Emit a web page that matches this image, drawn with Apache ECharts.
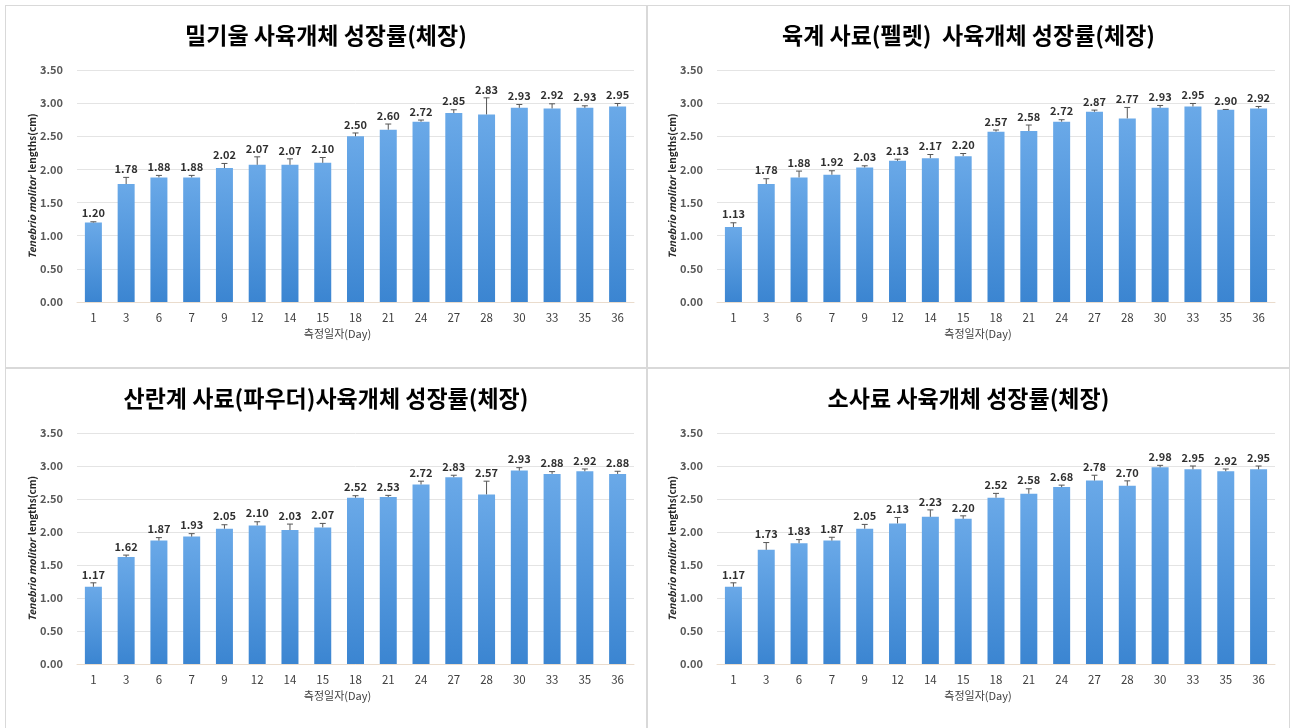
<!DOCTYPE html>
<html>
<head>
<meta charset="utf-8">
<script src="https://cdn.jsdelivr.net/npm/echarts@6/dist/echarts.min.js"></script>
<style>
  html, body { margin:0; padding:0; background:#fff; width:1291px; height:728px; overflow:hidden; }
  .panel { position:absolute; border:1px solid #d9d9d9; box-sizing:border-box; background:#fff; }
</style>
</head>
<body>
<div id="p1" class="panel" style="left:5px; top:5px; width:642px; height:363px;"></div>
<div id="p2" class="panel" style="left:647px; top:5px; width:643px; height:363px;"></div>
<div id="p3" class="panel" style="left:5px; top:368px; width:642px; height:364px;"></div>
<div id="p4" class="panel" style="left:647px; top:368px; width:643px; height:364px;"></div>
<script>
const days = ['1','3','6','7','9','12','14','15','18','21','24','27','28','30','33','35','36'];
const yTicks = [0, 0.5, 1.0, 1.5, 2.0, 2.5, 3.0, 3.5];

const title1 = '밀기울 사육개체 성장률(체장)';
const values1 = [1.20,1.78,1.88,1.88,2.02,2.07,2.07,2.10,2.50,2.60,2.72,2.85,2.83,2.93,2.92,2.93,2.95];
const errors1 = [0.01,0.10,0.03,0.03,0.07,0.12,0.09,0.08,0.05,0.085,0.025,0.05,0.25,0.05,0.07,0.03,0.045];

const title2 = '육계 사료(펠렛)  사육개체 성장률(체장)';
const values2 = [1.13,1.78,1.88,1.92,2.03,2.13,2.17,2.20,2.57,2.58,2.72,2.87,2.77,2.93,2.95,2.90,2.92];
const errors2 = [0.065,0.08,0.095,0.06,0.025,0.025,0.055,0.04,0.025,0.09,0.03,0.025,0.165,0.035,0.045,0.005,0.03];

const title3 = '산란계 사료(파우더)사육개체 성장률(체장)';
const values3 = [1.17,1.62,1.87,1.93,2.05,2.10,2.03,2.07,2.52,2.53,2.72,2.83,2.57,2.93,2.88,2.92,2.88];
const errors3 = [0.06,0.03,0.045,0.045,0.06,0.055,0.09,0.06,0.03,0.025,0.05,0.03,0.20,0.045,0.035,0.035,0.04];

const title4 = '소사료 사육개체 성장률(체장)';
const values4 = [1.17,1.73,1.83,1.87,2.05,2.13,2.23,2.20,2.52,2.58,2.68,2.78,2.70,2.98,2.95,2.92,2.95];
const errors4 = [0.06,0.11,0.055,0.05,0.065,0.09,0.105,0.045,0.065,0.075,0.03,0.08,0.075,0.03,0.05,0.035,0.05];

const xName = '측정일자(Day)';
const FONT = '"Noto Sans CJK KR", "Noto Sans", sans-serif';

function makeOption(title, values, errors, grid, titleTop) {
  const errData = values.map((v, i) => [i, v, errors[i]]);
  return {
    animation: false,
    title: {
      text: title, left: 'center', top: titleTop,
      textStyle: { fontSize: 23, fontWeight: 'bold', color: '#000', fontFamily: FONT }
    },
    grid: grid,
    xAxis: {
      type: 'category', data: days,
      axisTick: { show: false },
      axisLine: { lineStyle: { color: '#eadccd', width: 1 } },
      axisLabel: { color: '#404040', fontSize: 11.5, margin: 10, fontFamily: FONT },
      name: xName, nameLocation: 'middle', nameGap: 26, nameMoveOverlap: false,
      nameTextStyle: { color: '#404040', fontSize: 11, fontFamily: FONT, padding: [0, 36, 0, 0] }
    },
    yAxis: {
      type: 'value', min: yTicks[0], max: yTicks[yTicks.length - 1], interval: 0.5,
      axisLine: { show: false }, axisTick: { show: false },
      axisLabel: { formatter: v => v.toFixed(2), color: '#595959', fontSize: 11, fontWeight: 'bold', margin: 14, fontFamily: FONT },
      splitLine: { lineStyle: { color: '#e4e4e4', width: 1 } },
      name: '{i|Tenebrio molitor} {b|lengths(cm)}',
      nameLocation: 'middle', nameRotate: 90, nameGap: 39, nameMoveOverlap: false,
      nameTextStyle: {
        rich: {
          i: { fontStyle: 'italic', fontWeight: 'bold', fontSize: 10, color: '#262626', fontFamily: FONT },
          b: { fontWeight: 'bold', fontSize: 10, color: '#262626', fontFamily: FONT }
        }
      }
    },
    series: [
      {
        type: 'bar', data: values, barWidth: 17,
        itemStyle: {
          color: new echarts.graphic.LinearGradient(0, 0, 0, 1, [
            { offset: 0, color: '#6aa9e8' },
            { offset: 1, color: '#3b85d1' }
          ])
        }
      },
      {
        type: 'custom', data: errData, z: 10,
        encode: { x: 0, y: 1 },
        renderItem: function (params, api) {
          const x = api.value(0), v = api.value(1), e = api.value(2);
          const p0 = api.coord([x, v]);
          const p1 = api.coord([x, v + e]);
          return {
            type: 'group',
            children: [
              { type: 'line', shape: { x1: p0[0], y1: p0[1], x2: p1[0], y2: p1[1] }, style: { stroke: '#555', lineWidth: 1 } },
              { type: 'line', shape: { x1: p1[0] - 3, y1: p1[1], x2: p1[0] + 3, y2: p1[1] }, style: { stroke: '#555', lineWidth: 1 } },
              { type: 'text', x: p1[0], y: p1[1] - 3, style: { text: v.toFixed(2), align: 'center', verticalAlign: 'bottom', fill: '#303030', font: 'bold 11px ' + FONT } }
            ]
          };
        }
      }
    ]
  };
}

const gridLeftPanel = { left: 71, right: 12, top: 64, bottom: 65 };
const gridRightPanel = { left: 69, right: 14, top: 64, bottom: 65 };
const gridLeftPanelB = { left: 71, right: 12, top: 64, bottom: 67 };
const gridRightPanelB = { left: 69, right: 14, top: 64, bottom: 67 };

echarts.init(document.getElementById('p1')).setOption(makeOption(title1, values1, errors1, gridLeftPanel, 13));
echarts.init(document.getElementById('p2')).setOption(makeOption(title2, values2, errors2, gridRightPanel, 13));
echarts.init(document.getElementById('p3')).setOption(makeOption(title3, values3, errors3, gridLeftPanelB, 13));
echarts.init(document.getElementById('p4')).setOption(makeOption(title4, values4, errors4, gridRightPanelB, 13));
</script>
</body>
</html>
